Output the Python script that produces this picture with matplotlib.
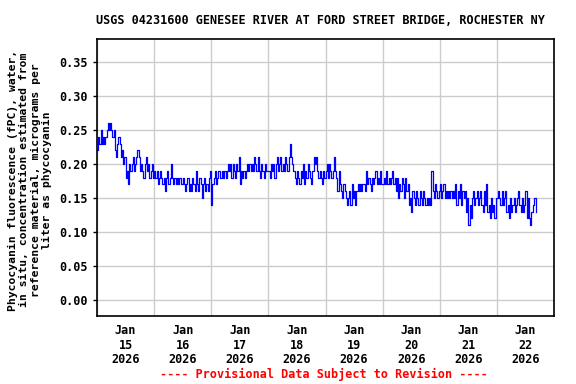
import numpy as np
import matplotlib
matplotlib.use("Agg")
import matplotlib.pyplot as plt
import matplotlib.dates as mdates

# phycocyanin, hundredths of ug/L, one value every 30 minutes from Jan 15 00:00
jan15 = [22, 24, 23, 25, 23, 24, 23, 24, 25, 26, 25, 26, 25, 24, 25, 22, 21, 23, 24, 23,
         21, 22, 20, 21, 18, 19, 17, 20, 19, 20, 21, 19, 20, 21, 22, 21, 19, 20, 19, 18,
         20, 21, 19, 20, 18, 19, 20, 18]
jan16 = [19, 18, 19, 17, 18, 19, 18, 17, 18, 16, 18, 19, 17, 18, 20, 18, 17, 18, 17, 18,
         17, 18, 18, 17, 18, 17, 16, 17, 18, 16, 17, 16, 18, 17, 16, 19, 17, 16, 18, 17,
         15, 17, 18, 16, 17, 16, 18, 19]
jan17 = [14, 17, 18, 19, 17, 18, 19, 18, 18, 19, 18, 19, 18, 19, 20, 19, 20, 18, 20, 19,
         18, 20, 19, 21, 17, 19, 18, 19, 18, 19, 20, 19, 20, 19, 20, 19, 21, 20, 19, 21,
         19, 18, 20, 19, 18, 20, 19, 19]
jan18 = [19, 18, 20, 19, 20, 18, 20, 21, 19, 20, 21, 19, 20, 19, 21, 20, 19, 21, 23, 21,
         20, 19, 18, 17, 19, 18, 17, 19, 18, 20, 17, 19, 18, 20, 19, 18, 17, 19, 21, 20,
         21, 19, 18, 19, 18, 17, 19, 18]
jan19 = [19, 20, 18, 20, 19, 18, 19, 21, 19, 18, 16, 19, 17, 16, 15, 17, 16, 15, 14, 15,
         16, 14, 17, 15, 16, 14, 16, 17, 16, 17, 16, 17, 17, 16, 19, 17, 18, 17, 16, 18,
         17, 18, 19, 17, 18, 17, 19, 17]
jan20 = [17, 18, 17, 19, 17, 18, 17, 18, 19, 17, 18, 16, 18, 15, 17, 16, 18, 17, 15, 18,
         16, 17, 14, 15, 13, 16, 15, 14, 16, 15, 14, 16, 15, 14, 16, 15, 14, 15, 14, 15,
         14, 19, 16, 15, 17, 16, 15, 16]
jan21 = [17, 15, 16, 17, 15, 16, 15, 16, 15, 16, 15, 16, 15, 17, 14, 16, 15, 17, 14, 16,
         15, 16, 13, 15, 11, 14, 12, 15, 16, 14, 15, 16, 14, 15, 16, 14, 13, 16, 14, 17,
         13, 14, 12, 15, 13, 14, 12, 15]
jan22 = [15, 16, 15, 14, 16, 14, 15, 16, 13, 14, 12, 15, 13, 14, 15, 13, 14, 15, 16, 14,
         13, 15, 13, 14, 16, 12, 15, 12, 11, 13, 14, 15, 15, 13]

vals = np.array(jan15 + jan16 + jan17 + jan18 + jan19 + jan20 + jan21 + jan22) / 100.0
times = np.datetime64("2026-01-15T00:00") + np.arange(len(vals)) * np.timedelta64(30, "m")

title = "USGS 04231600 GENESEE RIVER AT FORD STREET BRIDGE, ROCHESTER NY"
ylab = ("Phycocyanin fluorescence (fPC), water,\nin situ, concentration estimated from\n"
        "reference material, micrograms per\nliter as phycocyanin")
yticks = [0.0, 0.05, 0.10, 0.15, 0.20, 0.25, 0.30, 0.35]

font = "DejaVu Sans Mono"
fig = plt.figure(figsize=(5.76, 3.84), dpi=100)
ax = fig.add_axes([97/576, 1-316/384, 457/576, 277/384])

ax.plot(times, vals, color="#0000ff", lw=0.9, drawstyle="steps-post")

ax.set_xlim(np.datetime64("2026-01-15T00:00"), np.datetime64("2026-01-23T00:00"))
ax.set_ylim(-0.0235, 0.384)
ax.set_yticks(yticks)
ax.set_yticklabels(["%.2f" % v for v in yticks], fontfamily=font, fontweight="bold", fontsize=8.5)

ax.xaxis.set_major_locator(mdates.DayLocator())
ax.xaxis.set_major_formatter(plt.NullFormatter())
ax.xaxis.set_minor_locator(mdates.HourLocator(byhour=[12]))
ax.xaxis.set_minor_formatter(mdates.DateFormatter("Jan\n%d\n%Y"))
ax.tick_params(axis="x", which="both", length=0)
ax.tick_params(axis="x", which="minor", pad=6)
ax.tick_params(axis="y", length=3, width=1)
for lab in ax.xaxis.get_minorticklabels():
    lab.set_fontfamily(font)
    lab.set_fontweight("bold")
    lab.set_fontsize(8.5)
    lab.set_linespacing(1.15)

ax.grid(True, which="major", color="#cccccc", lw=1)
ax.set_axisbelow(True)
for s in ax.spines.values():
    s.set_linewidth(1.2)

fig.text(320/576, 1-20/384, title, ha="center", va="center", fontfamily=font,
         fontweight="bold", fontsize=8.5)
fig.text(30/576, 1-180/384, ylab, rotation=90, ha="center", va="center", fontfamily=font,
         fontweight="bold", fontsize=8.2, multialignment="center", linespacing=1.15)
fig.text(324/576, 1-374/384, "---- Provisional Data Subject to Revision ----", ha="center",
         va="center", color="red", fontfamily=font, fontweight="bold", fontsize=8.5)

fig.savefig("out.png", dpi=100)
